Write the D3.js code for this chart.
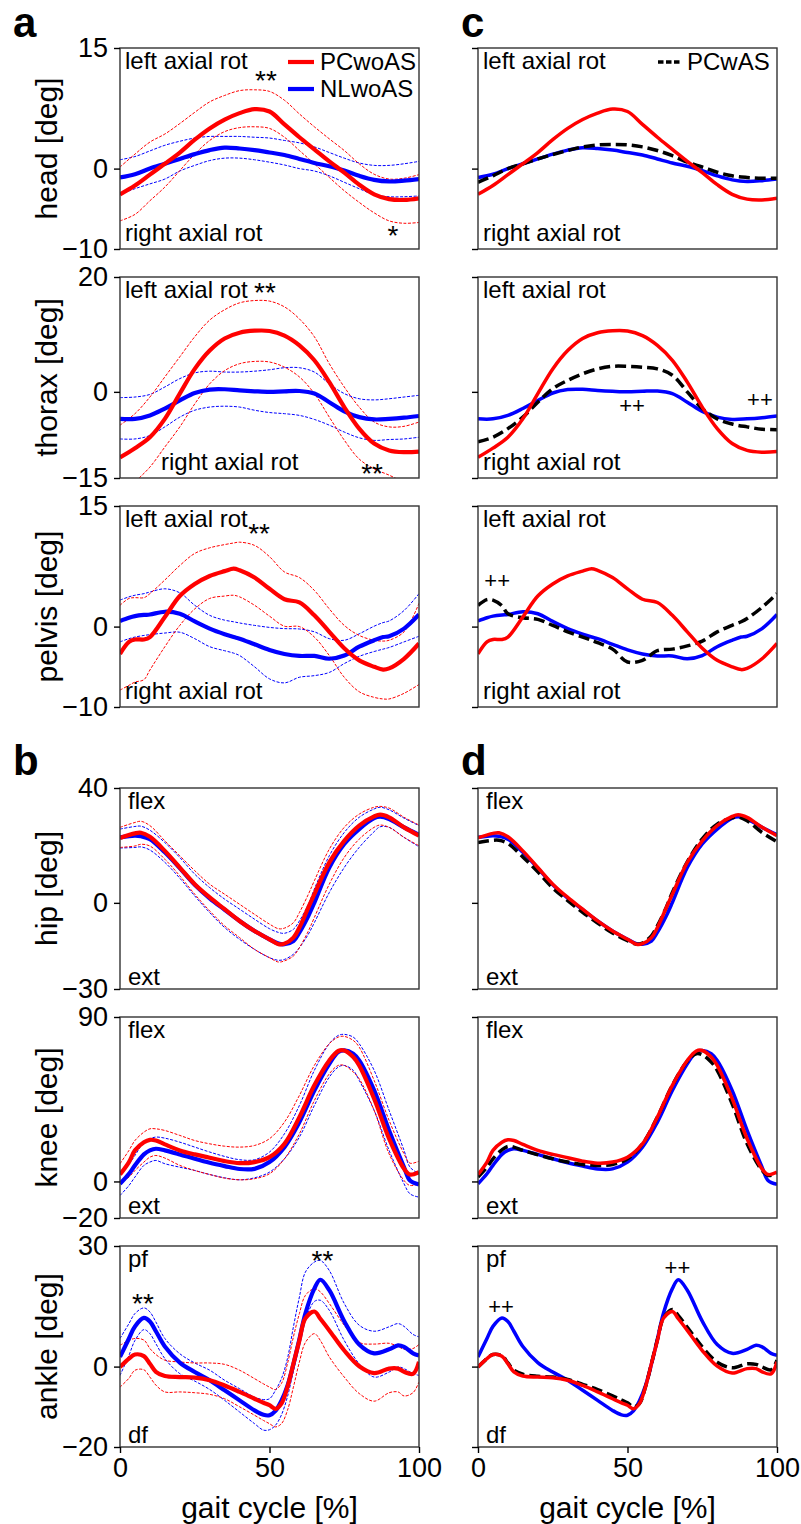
<!DOCTYPE html>
<html>
<head>
<meta charset="utf-8">
<script src="https://cdn.jsdelivr.net/npm/d3@7"></script>
<style>
	body { margin: 0; background: #fff; }
	svg { display: block; font-family: 'Liberation Sans', Arial, sans-serif; }
</style>
</head>
<body>
<div id="chart"></div>
<script>
const headX = [0, 5, 10, 15, 20, 25, 30, 35, 40, 45, 50, 55, 60, 65, 70, 75, 80, 85, 90, 95, 100];
const headRed = [-3.2, -2.1, -0.75, 0.6, 2.0, 3.6, 5.0, 6.1, 6.9, 7.4, 7.1, 5.5, 3.9, 2.4, 0.9, -0.5, -2.0, -3.2, -3.8, -3.9, -3.7];
const headRedHi = [0.2, 1.8, 3.3, 4.3, 5.6, 7.0, 8.3, 9.1, 9.7, 9.8, 9.6, 8.5, 6.8, 5.2, 3.7, 2.25, 0.6, -0.7, -1.3, -1.2, -0.75];
const headRedLo = [-6.5, -5.7, -4.0, -2.3, -0.25, 1.8, 3.5, 4.6, 5.1, 5.2, 5.0, 3.9, 2.25, 0.6, -1.1, -2.75, -4.2, -5.5, -6.5, -6.8, -6.7];
const headBlue = [-1.1, -0.7, 0, 0.6, 1.2, 1.8, 2.3, 2.6, 2.5, 2.3, 2.0, 1.7, 1.2, 0.7, 0.3, -0.25, -0.9, -1.4, -1.6, -1.5, -1.3];
const headBlueHi = [1.1, 1.5, 2.2, 2.9, 3.4, 3.8, 4.0, 4.0, 4.0, 3.9, 3.8, 3.5, 3.2, 2.7, 2.0, 1.3, 0.7, 0.4, 0.4, 0.6, 0.9];
const headBlueLo = [-3.2, -2.5, -1.9, -1.3, -0.3, 0.4, 1.0, 1.3, 1.3, 1.1, 0.8, 0.45, 0, -0.3, -0.9, -1.7, -2.5, -3.25, -3.5, -3.5, -3.4];
const headBlack = [-1.7, -0.9, 0, 0.6, 1.2, 1.75, 2.25, 2.7, 2.95, 3.0, 2.95, 2.7, 2.25, 1.6, 0.8, 0.2, -0.45, -0.9, -1.1, -1.2, -1.2];

const thoraxX = [0, 5, 10, 15, 20, 25, 30, 35, 40, 45, 50, 55, 60, 65, 70, 75, 80, 85, 90, 95, 100];
const thoraxRed = [-11.4, -9.8, -7.9, -4.7, -0.3, 4.0, 7.2, 9.3, 10.3, 10.65, 10.6, 9.8, 8.1, 5.5, 1.7, -2.65, -6.4, -9.0, -10.2, -10.5, -10.4];
const thoraxRedHi = [-5.8, -3.8, -0.9, 2.6, 6.1, 9.6, 12.5, 14.3, 15.5, 15.9, 15.8, 14.8, 12.7, 9.6, 4.9, 0.85, -2.65, -5.25, -6.1, -6.0, -5.25];
const thoraxRedLo = [-18.3, -15.7, -13.1, -9.6, -6.1, -2.1, 1.4, 3.7, 4.9, 5.3, 5.2, 4.3, 2.6, -0.3, -4.4, -8.4, -11.7, -13.4, -14.5, -15.7, -16.3];
const thoraxBlue = [-4.7, -4.7, -4.1, -2.9, -1.5, -0.2, 0.4, 0.45, 0.25, 0.1, 0, 0.1, 0.15, -0.3, -1.8, -3.4, -4.4, -4.8, -4.7, -4.5, -4.2];
const thoraxBlueHi = [-1.0, -0.9, -0.45, 0.85, 2.3, 3.3, 3.6, 3.45, 3.45, 3.6, 3.85, 4.2, 4.2, 3.45, 1.4, -0.3, -1.2, -1.4, -1.2, -0.9, -0.6];
const thoraxBlueLo = [-8.2, -8.2, -7.6, -6.1, -4.4, -3.2, -2.65, -2.5, -2.65, -3.2, -3.6, -3.8, -4.1, -4.8, -5.8, -7.0, -8.0, -8.45, -8.3, -8.2, -7.9];
const thoraxBlack = [-8.7, -7.9, -6.4, -4.4, -1.8, 0.55, 2.0, 3.15, 4.0, 4.45, 4.45, 4.3, 4.0, 2.9, 0, -2.9, -4.7, -5.6, -6.1, -6.5, -6.6];

const pelvisX = [0, 3, 5, 8, 10, 15, 20, 25, 30, 35, 38, 40, 45, 50, 55, 60, 65, 70, 75, 80, 85, 88, 90, 95, 100];
const pelvisRed = [-3.4, -1.9, -1.6, -1.6, -1.3, 1.2, 3.8, 5.3, 6.3, 6.9, 7.2, 7.0, 6.1, 4.7, 3.4, 3.0, 1.4, -0.65, -2.7, -4.2, -5.0, -5.35, -5.2, -4.0, -2.1];
const pelvisRedHi = [2.65, 3.5, 3.6, 3.6, 4.1, 5.8, 7.6, 9.1, 9.8, 10.2, 10.4, 10.5, 10.1, 8.7, 6.8, 6.1, 4.5, 2.2, 0.15, -1.1, -1.7, -1.8, -1.7, -0.65, 2.9];
const pelvisRedLo = [-7.9, -7.3, -6.9, -6.6, -5.4, -2.5, 0.15, 2.2, 3.5, 3.8, 3.9, 3.7, 2.65, 1.3, 0.05, 0, -1.3, -3.6, -6.3, -8.1, -8.8, -9.0, -9.0, -8.3, -7.2];
const pelvisBlue = [0.7, 1.1, 1.3, 1.45, 1.5, 1.85, 1.6, 0.65, -0.25, -0.95, -1.3, -1.5, -2.2, -2.9, -3.4, -3.65, -3.65, -4.0, -3.6, -2.5, -1.7, -1.3, -1.2, -0.25, 1.5];
const pelvisBlueHi = [3.3, 3.7, 3.9, 4.1, 4.3, 4.7, 4.2, 2.65, 1.4, 0.8, 0.6, 0.45, 0.15, -0.1, -0.25, -0.3, -0.65, -1.5, -1.7, -0.9, 0.05, 0.5, 0.7, 2.0, 4.1];
const pelvisBlueLo = [-1.9, -1.5, -1.3, -1.1, -1.0, -0.8, -0.7, -1.5, -2.5, -3.0, -3.3, -3.6, -5.0, -6.5, -7.0, -6.3, -6.1, -5.7, -4.6, -3.7, -3.1, -2.8, -2.6, -1.9, -1.2];
const pelvisBlack = [2.65, 3.35, 3.3, 2.6, 1.6, 1.1, 0.9, 0.15, -0.65, -1.3, -1.7, -2.0, -2.8, -4.4, -4.2, -3.0, -2.8, -2.4, -1.8, -0.65, 0.15, 0.6, 1.0, 2.4, 4.1];

const hipX = [0, 5, 7, 10, 15, 20, 25, 30, 35, 40, 45, 50, 53, 55, 58, 60, 63, 65, 70, 75, 80, 85, 87, 90, 95, 100];
const hipRed = [22.6, 24.2, 24.4, 23.0, 18.1, 12.3, 6.5, 1.9, -2.2, -6.3, -9.8, -12.7, -14.4, -14.2, -12.1, -8.6, -1.6, 3.0, 14.1, 21.6, 26.9, 30.1, 30.7, 29.8, 26.3, 23.4];
const hipRedHi = [26.3, 28.0, 28.4, 26.9, 21.6, 16.4, 11.2, 6.5, 3.0, -0.5, -4.0, -7.4, -9.0, -8.8, -6.9, -3.4, 3.0, 7.7, 18.7, 26.3, 30.9, 33.3, 33.6, 33.0, 29.8, 27.1];
const hipRedLo = [19.3, 19.8, 20.4, 19.8, 15.2, 9.4, 3.0, -2.8, -8.0, -12.1, -16.2, -19.1, -20.6, -20.2, -18.5, -15.6, -9.8, -5.1, 6.5, 15.8, 22.2, 26.3, 27.1, 26.3, 22.8, 19.9];
const hipBlue = [22.8, 23.4, 23.2, 22.2, 17.6, 12.1, 6.3, 1.6, -2.4, -6.3, -9.8, -12.7, -14.2, -14.4, -13.3, -10.3, -4.5, 0.1, 12.3, 20.5, 25.7, 29.5, 30.0, 29.2, 26.3, 23.7];
const hipBlueHi = [25.7, 26.6, 26.7, 25.3, 21.0, 15.8, 10.0, 5.3, 1.3, -2.2, -5.7, -9.0, -10.3, -10.6, -9.2, -6.3, -0.5, 4.8, 16.4, 24.5, 29.8, 32.7, 33.3, 32.4, 29.5, 26.9];
const hipBlueLo = [19.1, 19.3, 19.5, 18.4, 14.1, 8.6, 2.4, -3.4, -8.6, -12.7, -16.2, -19.1, -20.0, -19.7, -17.9, -15.6, -10.9, -6.9, 3.6, 12.3, 19.3, 24.8, 26.5, 26.3, 22.8, 19.5];
const hipBlack = [21.0, 21.8, 21.8, 20.7, 16.0, 10.8, 5.2, 0.8, -3.3, -7.0, -10.5, -13.2, -14.4, -14.0, -11.5, -8.0, -1.5, 3.6, 14.3, 22.3, 27.4, 29.6, 29.9, 28.6, 24.5, 21.3];

const kneeX = [0, 3, 5, 8, 10, 12, 15, 20, 25, 30, 35, 40, 45, 50, 55, 60, 65, 70, 73, 75, 78, 80, 85, 90, 95, 97, 100];
const kneeRed = [3.8, 10.6, 17.0, 21.5, 22.8, 22.4, 20.3, 17.0, 14.8, 13.0, 11.1, 10.0, 10.6, 13.3, 20.6, 35.2, 52.6, 66.2, 71.4, 71.7, 68.1, 63.5, 45.3, 23.4, 6.9, 3.8, 5.1];
const kneeRedHi = [9.7, 17.0, 22.4, 27.0, 28.8, 28.8, 27.9, 25.2, 22.4, 20.6, 19.3, 18.8, 19.7, 23.4, 32.5, 47.1, 63.5, 75.4, 79.0, 79.4, 77.2, 73.5, 55.3, 33.4, 15.1, 10.0, 11.1];
const kneeRedLo = [-1.3, 2.4, 6.0, 10.6, 13.3, 14.2, 12.8, 8.8, 6.0, 3.8, 1.8, 0.9, 1.5, 4.2, 12.4, 26.1, 44.3, 58.9, 63.5, 63.5, 59.9, 56.2, 38.9, 15.1, 0.5, -2.2, -1.3];
const kneeBlue = [-1.3, 4.2, 8.8, 14.8, 17.0, 17.9, 17.0, 14.8, 12.4, 10.2, 8.4, 6.8, 6.9, 10.6, 18.8, 32.5, 49.8, 64.4, 70.8, 71.7, 69.9, 66.2, 49.8, 27.9, 7.8, 0.5, -1.6];
const kneeBlueHi = [4.2, 9.5, 14.2, 21.5, 23.4, 24.3, 23.7, 21.5, 18.8, 16.1, 13.7, 11.9, 11.9, 16.1, 26.1, 41.6, 60.8, 75.4, 79.9, 80.5, 79.0, 75.4, 60.8, 38.9, 17.0, 7.8, 4.2];
const kneeBlueLo = [-7.7, -2.2, 2.4, 8.8, 10.6, 11.5, 9.7, 7.8, 6.0, 3.8, 2.0, 0.9, 2.0, 5.1, 12.4, 24.3, 41.6, 57.1, 62.6, 63.5, 60.8, 55.3, 38.9, 17.0, -1.3, -6.8, -8.6];
const kneeBlack = [2.4, 7.8, 12.4, 17.3, 19.2, 18.8, 17.0, 14.6, 12.4, 10.6, 9.3, 8.8, 9.3, 12.4, 20.6, 35.2, 52.6, 65.9, 69.9, 69.3, 65.3, 60.8, 42.5, 20.6, 6.0, 3.3, 4.2];

const ankleX = [0, 3, 5, 8, 10, 12, 15, 20, 25, 30, 35, 40, 45, 48, 50, 52, 54, 56, 58, 60, 62, 65, 67, 70, 75, 80, 85, 90, 93, 95, 98, 100];
const ankleRed = [-0.1, 2.0, 3.0, 2.6, 0.7, -1.3, -2.35, -2.6, -2.75, -3.4, -4.7, -6.3, -8.0, -9.0, -9.6, -10.5, -9.2, -5.1, 0.7, 6.5, 12.0, 13.7, 11.9, 9.0, 4.0, 0.1, -1.6, -0.5, -0.5, -1.3, -1.8, 1.2];
const ankleRedHi = [5.3, 6.5, 7.0, 6.6, 4.5, 3.0, 1.6, 1.15, 0.9, 0.9, 0.55, -0.9, -3.0, -4.3, -5.1, -5.7, -4.2, 0.7, 7.4, 13.2, 17.7, 19.4, 18.6, 15.7, 10.3, 6.0, 5.6, 5.8, 5.0, 4.3, 4.5, 5.5];
const ankleRedLo = [-5.1, -2.9, -0.9, -0.8, -2.6, -4.6, -6.3, -6.3, -6.5, -6.9, -8.0, -10.0, -12.1, -13.4, -14.2, -15.0, -14.2, -10.9, -5.1, 1.15, 6.0, 8.2, 6.5, 2.4, -2.6, -6.7, -8.6, -6.5, -6.3, -7.3, -6.5, -3.8];
const ankleBlue = [2.4, 7.0, 10.0, 12.1, 11.2, 8.8, 5.0, 1.0, -1.35, -3.4, -5.9, -8.4, -10.9, -12.0, -12.1, -11.0, -8.5, -4.8, 0.6, 6.8, 13.2, 19.4, 21.6, 19.0, 11.3, 5.5, 3.3, 4.3, 5.3, 4.9, 3.3, 2.8];
const ankleBlueHi = [7.0, 10.7, 13.2, 14.6, 13.6, 11.1, 7.0, 3.2, 0.9, -0.9, -3.4, -5.5, -7.6, -8.2, -8.0, -5.9, -3.0, 2.0, 9.9, 17.3, 23.5, 26.0, 26.4, 23.9, 15.7, 10.3, 8.8, 9.9, 10.7, 10.0, 8.0, 7.4];
const ankleBlueLo = [-2.2, 2.8, 6.5, 9.2, 8.2, 5.7, 2.0, -1.75, -3.6, -5.7, -8.4, -11.3, -14.2, -15.8, -15.7, -14.6, -12.0, -7.5, -1.0, 5.5, 11.5, 16.2, 16.5, 14.0, 6.5, 0.7, -2.6, -1.35, -0.1, -0.5, -1.75, -2.2];
const ankleBlack = [-0.1, 2.0, 3.0, 2.7, 0.9, -0.9, -1.9, -2.4, -2.6, -3.2, -4.4, -5.7, -7.3, -8.3, -9.0, -10.0, -9.2, -5.1, 0.7, 6.7, 12.0, 14.2, 12.7, 9.8, 4.9, 1.1, -0.3, 0.7, 0.55, -0.1, -0.8, 1.6];

const headTicks = [-10, 0, 15];
const thoraxTicks = [-15, 0, 20];
const pelvisTicks = [-10, 0, 15];
const hipTicks = [-30, 0, 40];
const kneeTicks = [-20, 0, 90];
const ankleTicks = [-20, 0, 30];
const gaitTicks = [0, 50, 100];

const seriesNames = ['PCwoAS', 'NLwoAS', 'PCwAS'];

// significance marks: row, column, text, gait %, degrees
const sigMarks = [
	[0, 0, '**', 48.8, 9.75],
	[0, 0, '*', 91.3, -9.5],
	[1, 0, '**', 48.5, 15.6],
	[1, 0, '**', 84.3, -15.8],
	[2, 0, '**', 46.5, 10.4],
	[5, 0, '**', 7.7, 13.3],
	[5, 0, '**', 67.7, 24.0],
	[1, 1, '++', 51.5, -3.75],
	[1, 1, '++', 94.3, -2.7],
	[2, 1, '++', 6.4, 4.8],
	[5, 1, '++', 7.7, 13.0],
	[5, 1, '++', 66.7, 22.7],
];

const joints = [
	{ label: 'head [deg]', x: headX, red: headRed, redHi: headRedHi, redLo: headRedLo, blue: headBlue, blueHi: headBlueHi, blueLo: headBlueLo, black: headBlack, ticks: headTicks, hi: 'left axial rot', lo: 'right axial rot' },
	{ label: 'thorax [deg]', x: thoraxX, red: thoraxRed, redHi: thoraxRedHi, redLo: thoraxRedLo, blue: thoraxBlue, blueHi: thoraxBlueHi, blueLo: thoraxBlueLo, black: thoraxBlack, ticks: thoraxTicks, hi: 'left axial rot', lo: 'right axial rot' },
	{ label: 'pelvis [deg]', x: pelvisX, red: pelvisRed, redHi: pelvisRedHi, redLo: pelvisRedLo, blue: pelvisBlue, blueHi: pelvisBlueHi, blueLo: pelvisBlueLo, black: pelvisBlack, ticks: pelvisTicks, hi: 'left axial rot', lo: 'right axial rot' },
	{ label: 'hip [deg]', x: hipX, red: hipRed, redHi: hipRedHi, redLo: hipRedLo, blue: hipBlue, blueHi: hipBlueHi, blueLo: hipBlueLo, black: hipBlack, ticks: hipTicks, hi: 'flex', lo: 'ext' },
	{ label: 'knee [deg]', x: kneeX, red: kneeRed, redHi: kneeRedHi, redLo: kneeRedLo, blue: kneeBlue, blueHi: kneeBlueHi, blueLo: kneeBlueLo, black: kneeBlack, ticks: kneeTicks, hi: 'flex', lo: 'ext' },
	{ label: 'ankle [deg]', x: ankleX, red: ankleRed, redHi: ankleRedHi, redLo: ankleRedLo, blue: ankleBlue, blueHi: ankleBlueHi, blueLo: ankleBlueLo, black: ankleBlack, ticks: ankleTicks, hi: 'pf', lo: 'df' },
];

const chartWidth = 801;
const chartHeight = 1524;
const plotW = 299;
const plotH = 201;
const colLeft = [120, 478];
const rowTop = [48, 277, 506, 788, 1017, 1246];
const fontTick = 27;
const fontLabel = 30;
const fontNote = 24;

const svg = d3
	.select('#chart')
	.append('svg')
	.attr('width', chartWidth)
	.attr('height', chartHeight);

const xScale = d3.scaleLinear().domain([0, 100]).range([0, plotW]);

joints.forEach((j, r) => {
	const yScale = d3
		.scaleLinear()
		.domain(d3.extent(j.ticks))
		.range([plotH, 0]);

	const line = d3
		.line()
		.x((d, i) => xScale(j.x[i]))
		.y((d) => yScale(d))
		.curve(d3.curveCatmullRom.alpha(0.5));

	[0, 1].forEach((c) => {
		const g = svg
			.append('g')
			.attr('transform', `translate(${colLeft[c]},${rowTop[r]})`);

		g.append('clipPath')
			.attr('id', `clip-${r}-${c}`)
			.append('rect')
			.attr('width', plotW)
			.attr('height', plotH);

		const plot = g.append('g').attr('clip-path', `url(#clip-${r}-${c})`);

		if (c === 0) {
			const bands = [
				[j.blueHi, 'blue'],
				[j.blueLo, 'blue'],
				[j.redHi, 'red'],
				[j.redLo, 'red'],
			];
			bands.forEach(([vals, col]) => {
				plot.append('path')
					.datum(vals)
					.attr('d', line)
					.attr('fill', 'none')
					.attr('stroke', col)
					.attr('stroke-width', 1)
					.attr('stroke-dasharray', '3,1.5');
			});
			plot.append('path')
				.datum(j.blue)
				.attr('d', line)
				.attr('fill', 'none')
				.attr('stroke', 'blue')
				.attr('stroke-width', 4.2);
			plot.append('path')
				.datum(j.red)
				.attr('d', line)
				.attr('fill', 'none')
				.attr('stroke', 'red')
				.attr('stroke-width', 4.2);
		} else {
			plot.append('path')
				.datum(j.blue)
				.attr('d', line)
				.attr('fill', 'none')
				.attr('stroke', 'blue')
				.attr('stroke-width', 3.5);
			plot.append('path')
				.datum(j.black)
				.attr('d', line)
				.attr('fill', 'none')
				.attr('stroke', 'black')
				.attr('stroke-width', 3.5)
				.attr('stroke-dasharray', '11,5');
			plot.append('path')
				.datum(j.red)
				.attr('d', line)
				.attr('fill', 'none')
				.attr('stroke', 'red')
				.attr('stroke-width', 3.5);
		}

		g.append('rect')
			.attr('width', plotW)
			.attr('height', plotH)
			.attr('fill', 'none')
			.attr('stroke', '#333')
			.attr('stroke-width', 1.4);

		const yAxis = g
			.append('g')
			.call(
				d3
					.axisLeft(yScale)
					.tickValues(j.ticks)
					.tickSize(6)
					.tickPadding(6)
					.tickFormat(c === 0 ? d3.format('d') : '')
			);
		yAxis.select('.domain').remove();
		yAxis.selectAll('.tick line').attr('stroke', '#000').attr('stroke-width', 1.4);
		yAxis.selectAll('.tick text')
			.attr('fill', '#000')
			.style('font-size', fontTick + 'px')
			.style('font-family', "'Liberation Sans', Arial, sans-serif");

		if (r === joints.length - 1) {
			const xAxis = g
				.append('g')
				.attr('transform', `translate(0,${plotH})`)
				.call(d3.axisBottom(xScale).tickValues(gaitTicks).tickSize(6).tickPadding(5));
			xAxis.select('.domain').remove();
			xAxis.selectAll('.tick line').attr('stroke', '#000').attr('stroke-width', 1.4);
			xAxis.selectAll('.tick text')
				.attr('fill', '#000')
				.style('font-size', fontTick + 'px')
				.style('font-family', "'Liberation Sans', Arial, sans-serif");

			g.append('text')
				.attr('x', plotW / 2)
				.attr('y', plotH + 71)
				.attr('text-anchor', 'middle')
				.style('font-size', fontLabel + 'px')
				.text('gait cycle [%]');
		}

		if (c === 0) {
			g.append('text')
				.attr('transform', `translate(-63,${plotH / 2}) rotate(-90)`)
				.attr('text-anchor', 'middle')
				.style('font-size', fontLabel + 'px')
				.text(j.label);
		}

		const axial = r < 3;
		g.append('text')
			.attr('x', axial ? 5 : 8)
			.attr('y', 21)
			.style('font-size', fontNote + 'px')
			.text(j.hi);
		g.append('text')
			.attr('x', axial ? (r === 1 && c === 0 ? 41 : 5) : 8)
			.attr('y', axial ? plotH - 8 : plotH - 4)
			.style('font-size', fontNote + 'px')
			.text(j.lo);

		sigMarks
			.filter((m) => m[0] === r && m[1] === c)
			.forEach((m) => {
				g.append('text')
					.attr('x', xScale(m[3]))
					.attr('y', yScale(m[4]))
					.attr('text-anchor', 'middle')
					.style('font-size', m[2] === '++' ? '22px' : '28px')
					.text(m[2]);
			});
	});
});

// legends
const legendLeft = svg.append('g').attr('transform', `translate(${colLeft[0]},${rowTop[0]})`);
[['red', seriesNames[0], 14], ['blue', seriesNames[1], 41]].forEach(([col, name, dy]) => {
	legendLeft.append('line')
		.attr('x1', 168)
		.attr('x2', 194)
		.attr('y1', dy)
		.attr('y2', dy)
		.attr('stroke', col)
		.attr('stroke-width', 4.2);
	legendLeft.append('text')
		.attr('x', 200)
		.attr('y', dy + 8)
		.style('font-size', fontNote + 'px')
		.text(name);
});

const legendRight = svg.append('g').attr('transform', `translate(${colLeft[1]},${rowTop[0]})`);
legendRight.append('line')
	.attr('x1', 180)
	.attr('x2', 202)
	.attr('y1', 14)
	.attr('y2', 14)
	.attr('stroke', 'black')
	.attr('stroke-width', 3.5)
	.attr('stroke-dasharray', '5.5,2.5');
legendRight.append('text')
	.attr('x', 209)
	.attr('y', 22)
	.style('font-size', fontNote + 'px')
	.text(seriesNames[2]);

// panel letters
[['a', 13, 37], ['c', 461, 37], ['b', 13, 775], ['d', 461, 775]].forEach(([t, x, y]) => {
	svg.append('text')
		.attr('x', x)
		.attr('y', y)
		.style('font-size', '42px')
		.style('font-weight', 'bold')
		.text(t);
});
</script>
</body>
</html>
